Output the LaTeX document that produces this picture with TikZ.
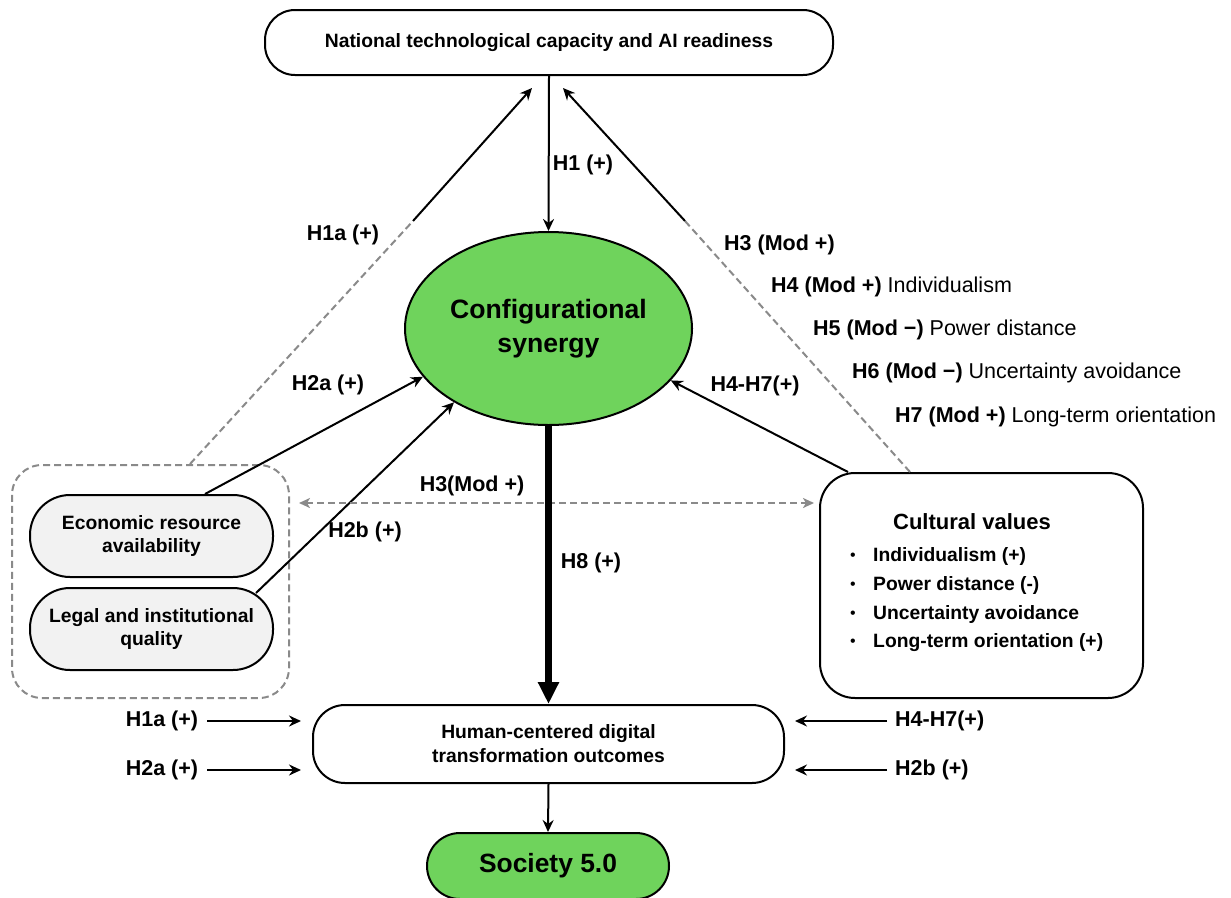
\documentclass[tikz,border=0pt]{standalone}
\usepackage{fontspec}
\setmainfont{Liberation Sans}
\usetikzlibrary{arrows.meta,shapes.geometric}
\definecolor{sgreen}{HTML}{6FD35C}
\definecolor{lgray}{HTML}{F2F2F2}
\definecolor{dgray}{HTML}{8A8A8A}
\begin{document}
\begin{tikzpicture}[x=1pt,y=-1pt,
  box/.style={draw,line width=2pt,align=center,inner sep=0pt,font=\bfseries\fontsize{19.3}{23.5}\selectfont},
  arr/.style={line width=2pt,-{Stealth[length=12pt,width=11pt,inset=4pt]}},
  gd/.style={draw=dgray,line width=2pt,dash pattern=on 7pt off 4pt},
  lab/.style={font=\bfseries\fontsize{21.5}{26}\selectfont,inner sep=0pt},
  hyp/.style={font=\fontsize{21.5}{26}\selectfont,inner sep=0pt,anchor=west},
  item/.style={font=\bfseries\fontsize{19.3}{23}\selectfont,inner sep=0pt,anchor=west},
  bul/.style={font=\fontsize{16}{18}\selectfont,inner sep=0pt}]
\useasboundingbox (0,0) rectangle (1231,897);
\fill[white] (0,0) rectangle (1231,897);

% main nodes
\node[box,rounded corners=30pt,minimum width=568pt,minimum height=65pt] (top) at (549,42.5) {National technological capacity and AI readiness};
\node[draw,ellipse,fill=sgreen,line width=2pt,minimum width=287pt,minimum height=193pt,inner sep=0pt,align=center,font=\bfseries\fontsize{26.6}{34}\selectfont] (cs) at (548.5,328.5) {Configurational\\synergy};
\node[box,rounded corners=32pt,minimum width=471pt,minimum height=78pt,font=\bfseries\fontsize{19.3}{24}\selectfont] (hum) at (548.5,744) {Human-centered digital\\transformation outcomes};
\node[box,rounded corners=33pt,fill=sgreen,minimum width=242pt,minimum height=66pt,font=\bfseries\fontsize{26.4}{30}\selectfont] (soc) at (548,866) {Society 5.0};

% left group
\node[gd,rounded corners=30pt,minimum width=277pt,minimum height=233pt,inner sep=0pt] (grp) at (150.5,581.5) {};
\node[box,fill=lgray,rounded corners=40pt,minimum width=243pt,minimum height=82pt,font=\bfseries\fontsize{19.3}{23}\selectfont] (eco) at (151.5,536) {Economic resource\\availability};
\node[box,fill=lgray,rounded corners=40pt,minimum width=243pt,minimum height=82pt,font=\bfseries\fontsize{19.3}{23}\selectfont] (leg) at (151.5,629) {Legal and institutional\\quality};

% cultural values
\node[draw,line width=2pt,rounded corners=35pt,minimum width=323pt,minimum height=225pt,inner sep=0pt] (cv) at (981.5,585.5) {};
\node[lab,font=\bfseries\fontsize{22}{26}\selectfont] (cvt) at (972,522) {Cultural values};
\node[bul] (b1) at (853,557) {•};
\node[item] (i1) at (873,557) {Individualism (+)};
\node[bul] (b2) at (853,586) {•};
\node[item] (i2) at (873,586) {Power distance (-)};
\node[bul] (b3) at (853,615) {•};
\node[item] (i3) at (873,615) {Uncertainty avoidance};
\node[bul] (b4) at (853,643) {•};
\node[item] (i4) at (873,643) {Long-term orientation (+)};

% labels
\node[lab] (lh1) at (583,165) {H1 (+)};
\node[lab] (lh1a) at (343,235) {H1a (+)};
\node[lab] (lh2a) at (328,385) {H2a (+)};
\node[lab] (lh2b) at (365,532) {H2b (+)};
\node[lab] (lh3) at (472,486) {H3(Mod +)};
\node[lab] (lh47) at (755,386) {H4-H7(+)};
\node[lab] (lh8) at (591,563) {H8 (+)};

\node[hyp] (hy3) at (724,245) {\bfseries H3 (Mod +)};
\node[hyp] (hy4) at (771,287) {\textbf{H4 (Mod +)} Individualism};
\node[hyp] (hy5) at (813,330) {\textbf{H5 (Mod −)} Power distance};
\node[hyp] (hy6) at (852,373) {\textbf{H6 (Mod −)} Uncertainty avoidance};
\node[hyp] (hy7) at (895,417) {\textbf{H7 (Mod +)} Long-term orientation};

\node[lab] (lb1) at (162,721) {H1a (+)};
\node[lab] (lb2) at (162,770) {H2a (+)};
\node[lab,anchor=west] (rb1) at (895,721) {H4-H7(+)};
\node[lab,anchor=west] (rb2) at (895,770) {H2b (+)};

% connectors
\coordinate (k1) at (413,221);
\coordinate (t1) at (532,88);
\coordinate (k2) at (685,221);
\coordinate (t2) at (563,88);
\coordinate (hy) at (0,503);

\draw[arr] (top.south) -- (cs.north);
\draw[gd] ([xshift=39.5pt]grp.north) -- (k1);
\draw[arr] (k1) -- (t1);
\draw[gd] ([xshift=-71.5pt]cv.north) -- (k2);
\draw[arr] (k2) -- (t2);
\draw[arr] ([xshift=53.5pt]eco.north) -- (cs.201);
\draw[arr] ([xshift=-18pt,yshift=-6pt]leg.north east) -- (cs.218);
\draw[arr] ([xshift=-133.5pt]cv.north) -- (cs.337);
\draw[gd,{Stealth[length=11pt,width=10pt,inset=3pt]}-{Stealth[length=11pt,width=10pt,inset=3pt]}] ([xshift=9pt]grp.east |- hy) -- ([xshift=-5pt]cv.west |- hy);
\draw[line width=6.5pt,-{Triangle[length=22pt,width=20pt]}] (cs.south) -- (hum.north);
\draw[arr] (hum.south) -- (soc.north);

\draw[arr] ([xshift=9pt]lb1.east) -- ([xshift=-11pt]hum.west |- lb1);
\draw[arr] ([xshift=9pt]lb2.east) -- ([xshift=-11pt]hum.west |- lb2);
\draw[arr] ([xshift=-8pt]rb1.west) -- ([xshift=10pt]hum.east |- rb1);
\draw[arr] ([xshift=-8pt]rb2.west) -- ([xshift=10pt]hum.east |- rb2);
\end{tikzpicture}
\end{document}
